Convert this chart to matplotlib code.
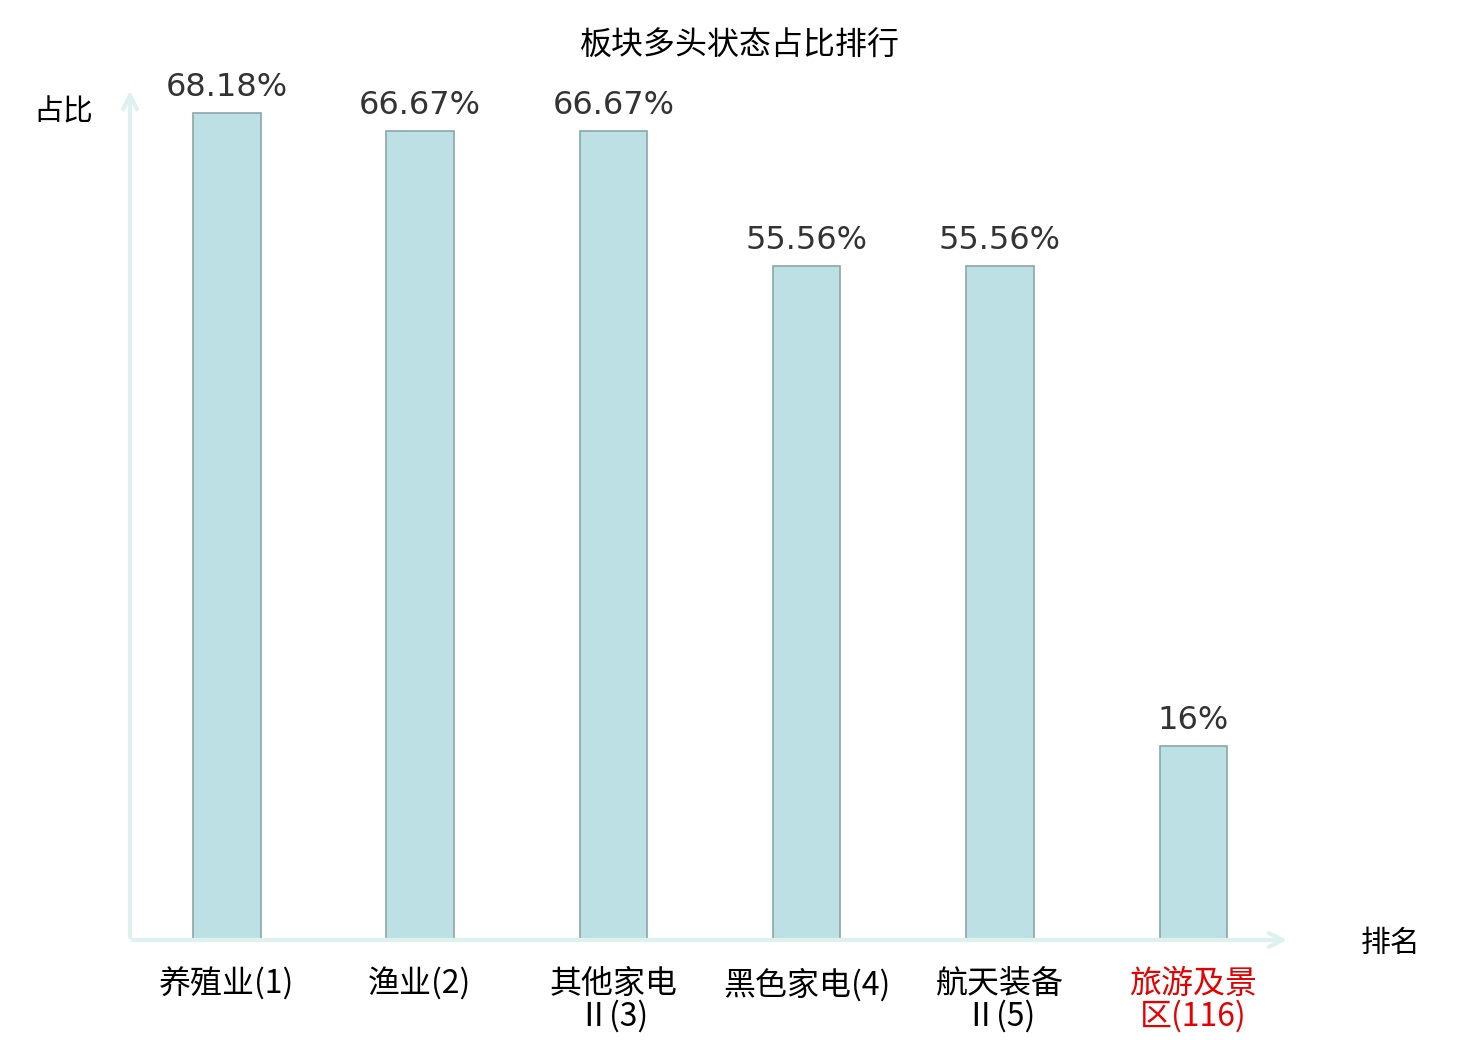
import matplotlib
matplotlib.use("Agg")
import matplotlib.pyplot as plt

plt.rcParams['font.family'] = ['Noto Sans CJK SC', 'DejaVu Sans']

# data
categories = ["养殖业(1)", "渔业(2)", "其他家电\nⅡ(3)", "黑色家电(4)", "航天装备\nⅡ(5)", "旅游及景\n区(116)"]
values = [68.18, 66.67, 66.67, 55.56, 55.56, 16]
value_labels = ["68.18%", "66.67%", "66.67%", "55.56%", "55.56%", "16%"]
highlight = [False, False, False, False, False, True]

fig = plt.figure(figsize=(14.8, 10.4), dpi=100)
ax = fig.add_axes([130 / 1480, 100 / 1040, 1160 / 1480, 852 / 1040])

x = list(range(len(categories)))
ax.bar(x, values, width=0.35, color="#bce0e3", edgecolor="#8ba7a9", linewidth=1.2, zorder=2)

for xi, v, lab in zip(x, values, value_labels):
    ax.annotate(lab, (xi, v), xytext=(0, 7), textcoords="offset points",
                ha="center", va="bottom", fontsize=23,
                family="DejaVu Sans", color="#333333")

ax.set_xlim(-0.5, 5.5)
ax.set_ylim(0, 70.2)
for s in ax.spines.values():
    s.set_visible(False)
ax.set_yticks([])
ax.set_xticks(x)
ax.set_xticklabels(categories, fontsize=23, linespacing=1.0)
ax.tick_params(axis="x", length=0, pad=20)
for t, h in zip(ax.get_xticklabels(), highlight):
    t.set_color("#e60000" if h else "black")

# axis arrows
axis_col = "#dff1ef"
ax.annotate("", xy=(1.0, 0), xytext=(0, 0), xycoords="axes fraction",
            arrowprops=dict(arrowstyle="->,head_length=1.0,head_width=0.5", color=axis_col, lw=3))
ax.annotate("", xy=(0, 1.0), xytext=(0, 0), xycoords="axes fraction",
            arrowprops=dict(arrowstyle="->,head_length=1.0,head_width=0.5", color=axis_col, lw=3))

fig.text(63 / 1480, 1 - 112 / 1040, "占比", ha="center", va="center", fontsize=21.5)
fig.text(1391 / 1480, 1 - 943 / 1040, "排名", ha="center", va="center", fontsize=21.5)
fig.text(740 / 1480, 1 - 46 / 1040, "板块多头状态占比排行", ha="center", va="center", fontsize=23)

fig.savefig("out.png", dpi=100)
